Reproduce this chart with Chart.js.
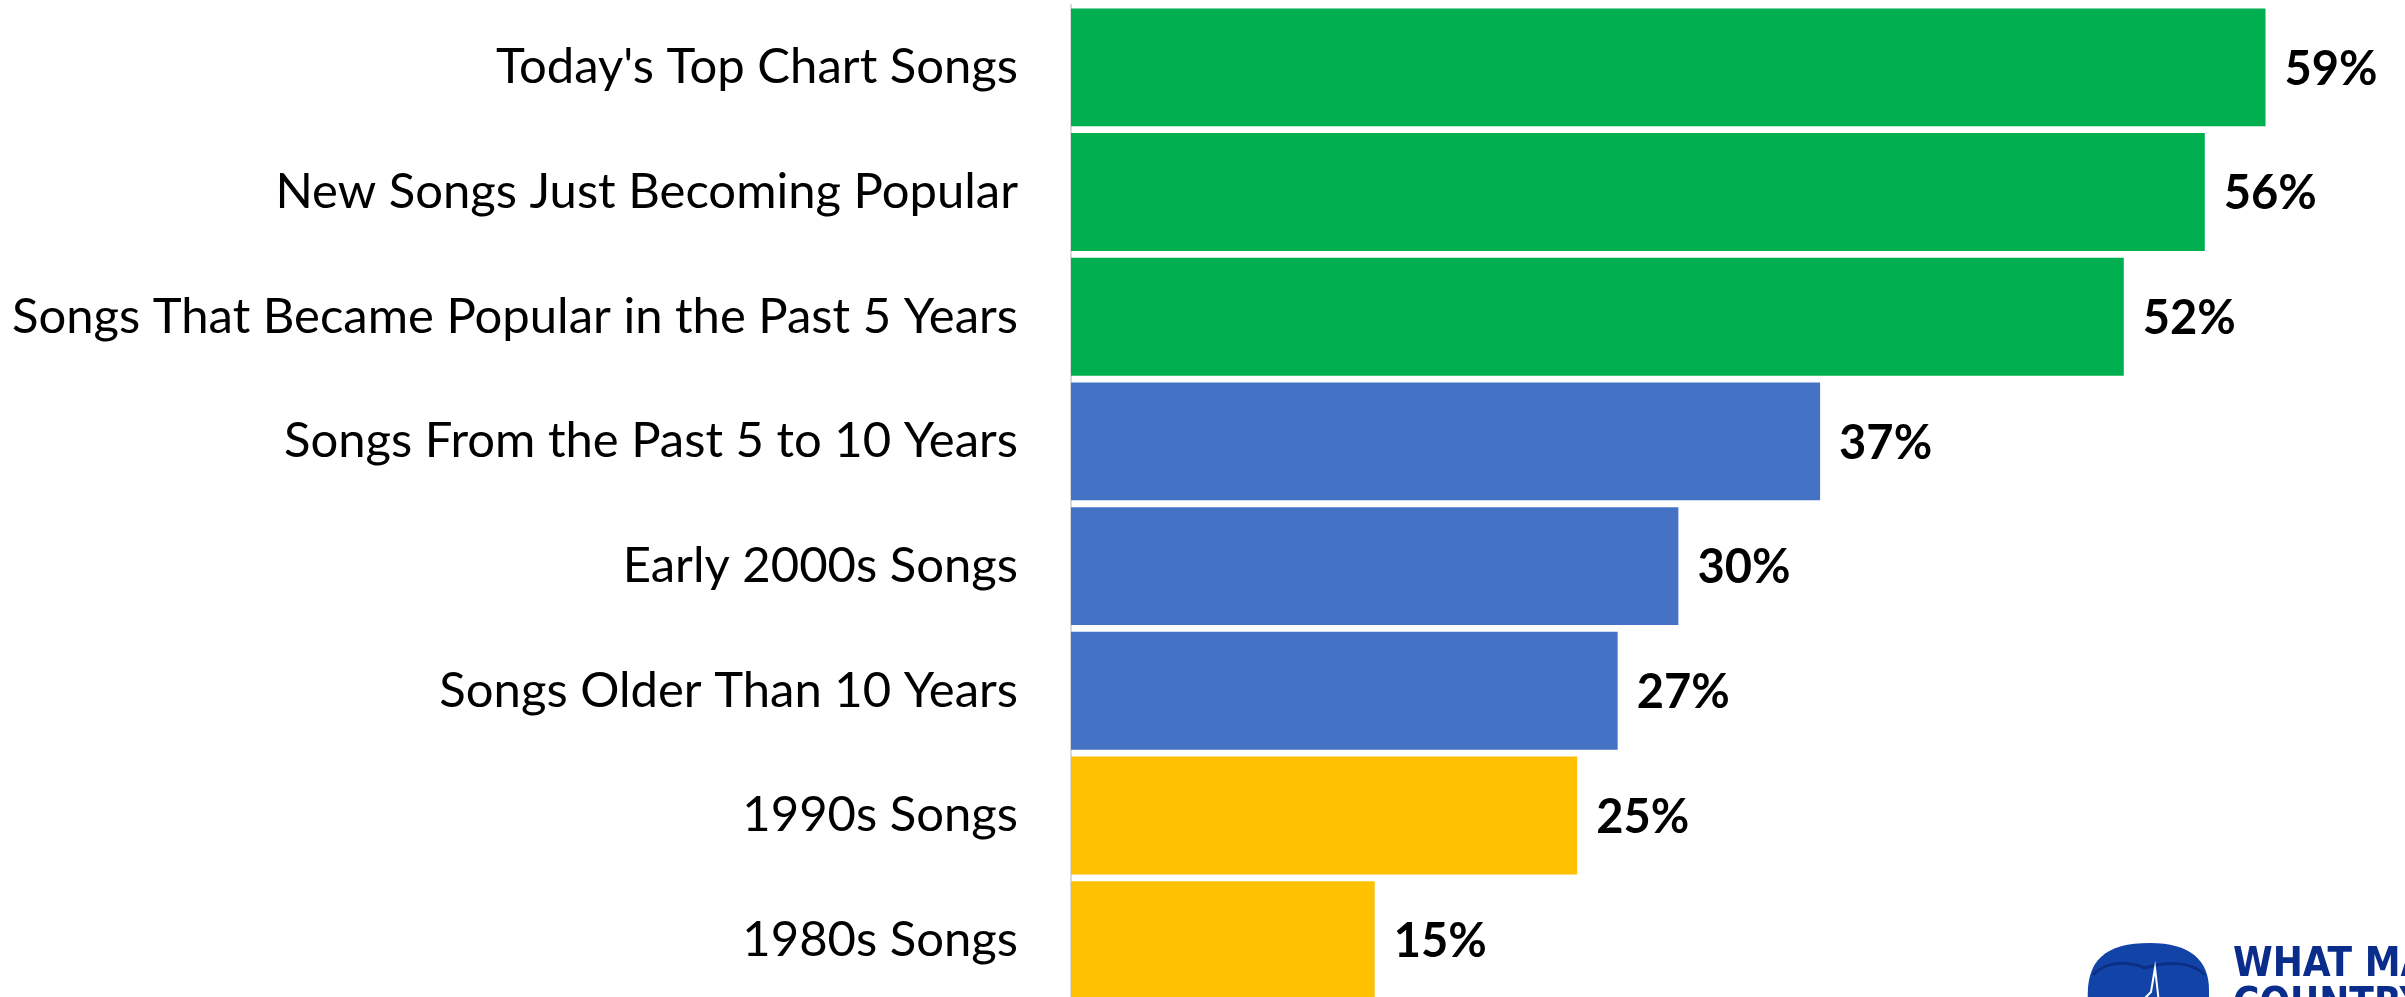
<!DOCTYPE html>
<html>
<head>
<meta charset="utf-8">
<script src="https://cdn.jsdelivr.net/npm/chart.js@4"></script>
<style>
  html, body { margin: 0; padding: 0; background: #fff; overflow: hidden; }
  #wrap { width: 2405px; height: 997px; overflow: hidden; }
</style>
</head>
<body>
<div id="wrap"><canvas id="chart" width="2405" height="1003"></canvas></div>
<script>
// categories and shares (percent)
const categories = [
    "Today's Top Chart Songs",
    "New Songs Just Becoming Popular",
    "Songs That Became Popular in the Past 5 Years",
    "Songs From the Past 5 to 10 Years",
    "Early 2000s Songs",
    "Songs Older Than 10 Years",
    "1990s Songs",
    "1980s Songs"
];
const shares = [59, 56, 52, 37, 30, 27, 25, 15];
const barColors = ["#00B050", "#00B050", "#00B050", "#4472C4", "#4472C4", "#4472C4", "#FFC000", "#FFC000"];

const labelFont = "Lato, 'Liberation Sans', sans-serif";

// draw the percentage next to each bar
const valueLabels = {
    id: 'valueLabels',
    afterDatasetsDraw(chart) {
        const ctx = chart.ctx;
        const meta = chart.getDatasetMeta(0);
        ctx.save();
        ctx.font = "bold 47px " + labelFont;
        ctx.fillStyle = "#000";
        ctx.textBaseline = "middle";
        ctx.textAlign = "left";
        meta.data.forEach((bar, i) => {
            ctx.fillText(shares[i] + "%", bar.x + 19, bar.y + 2);
        });
        ctx.restore();
    }
};

// partial logo in the bottom right corner
const logo = {
    id: 'logo',
    afterDraw(chart) {
        const ctx = chart.ctx;
        const w = chart.width;
        ctx.save();
        ctx.fillStyle = "#1244a8";
        ctx.beginPath();
        ctx.moveTo(w - 317, 1003);
        ctx.bezierCurveTo(w - 320, 960, w - 300, 943, w - 255, 943);
        ctx.bezierCurveTo(w - 215, 943, w - 196, 960, w - 196, 990);
        ctx.lineTo(w - 196, 1003);
        ctx.closePath();
        ctx.fill();
        ctx.strokeStyle = "#0b2f85";
        ctx.lineWidth = 3;
        ctx.beginPath();
        ctx.moveTo(w - 312, 975);
        ctx.bezierCurveTo(w - 300, 962, w - 280, 960, w - 260, 968);
        ctx.bezierCurveTo(w - 240, 962, w - 215, 960, w - 200, 975);
        ctx.stroke();
        // heartbeat line
        ctx.strokeStyle = "#fff";
        ctx.lineWidth = 2;
        ctx.beginPath();
        ctx.moveTo(w - 262, 1000);
        ctx.lineTo(w - 254, 992);
        ctx.lineTo(w - 250, 968);
        ctx.lineTo(w - 246, 1003);
        ctx.stroke();
        ctx.fillStyle = "#0a2d8c";
        ctx.font = "bold 40px 'Liberation Sans Narrow', 'DejaVu Sans Condensed', sans-serif";
        ctx.textBaseline = "alphabetic";
        ctx.fillText("WHAT MATTERS", w - 172, 976);
        ctx.fillText("COUNTRY", w - 172, 1016);
        ctx.restore();
    }
};

new Chart(document.getElementById("chart"), {
    type: "bar",
    data: {
        labels: categories,
        datasets: [{
            data: shares,
            backgroundColor: barColors,
            borderWidth: 0,
            barPercentage: 1,
            categoryPercentage: 0.945
        }]
    },
    options: {
        indexAxis: 'y',
        responsive: false,
        devicePixelRatio: 1,
        animation: false,
        layout: { padding: { top: 5, right: 18, bottom: 0, left: 0 } },
        plugins: { legend: { display: false }, tooltip: { enabled: false } },
        scales: {
            x: {
                display: false,
                min: 0,
                max: 65
            },
            y: {
                afterFit(scale) { scale.width = 1071; },
                // invisible tick marks push the labels away from the axis line
                grid: { display: true, drawOnChartArea: false, drawTicks: true, tickLength: 53, tickColor: "rgba(0,0,0,0)" },
                border: { display: true, color: "#d9d9d9", width: 2 },
                ticks: {
                    color: "#000",
                    padding: 0,
                    font: { family: labelFont, size: 49, lineHeight: "1px" }
                }
            }
        }
    },
    plugins: [valueLabels, logo]
});
</script>
</body>
</html>
